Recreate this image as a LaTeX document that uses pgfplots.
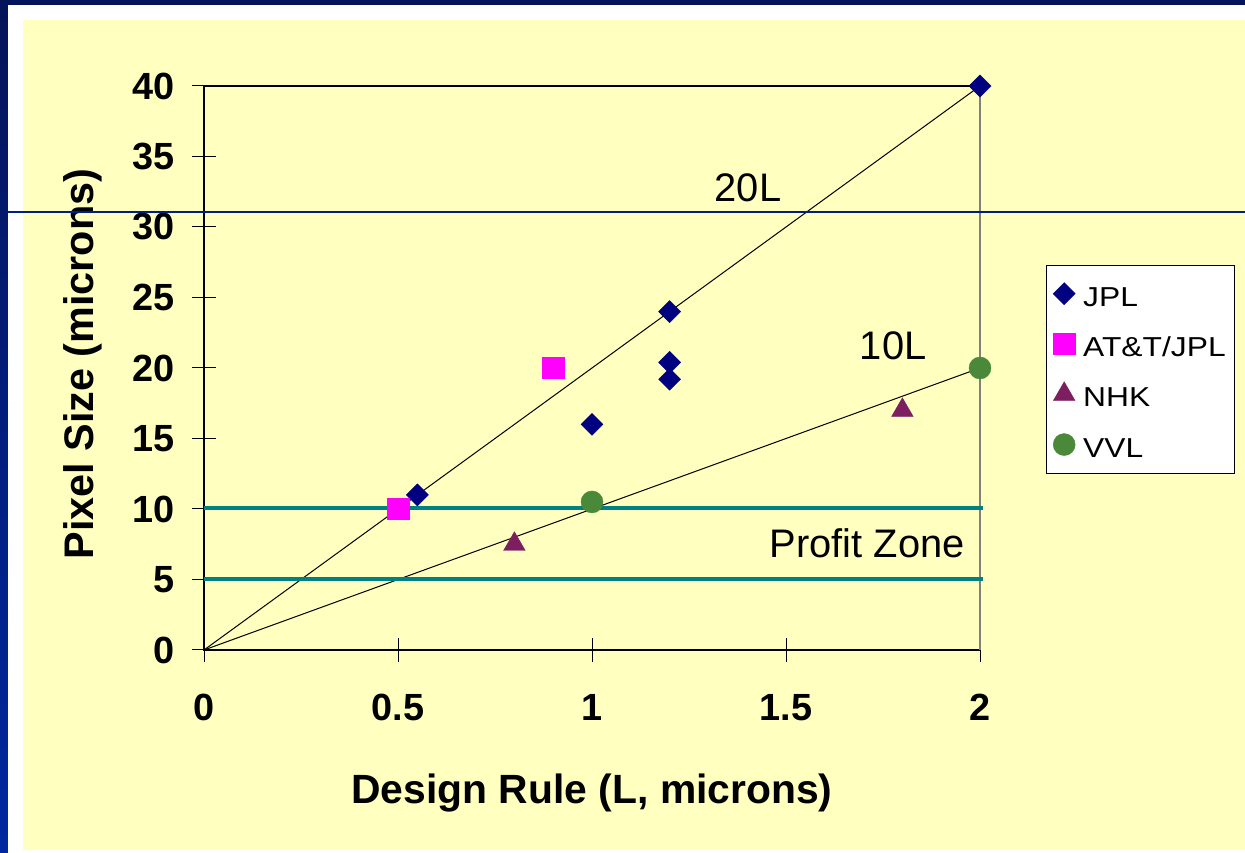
\documentclass[border=0pt]{standalone}
\usepackage{pgfplots}
\pgfplotsset{compat=1.18}
\usepackage{fontspec}
\setmainfont{Liberation Sans}
\newfontfamily\legfont[FakeStretch=1.16]{Liberation Sans}
\definecolor{navtop}{RGB}{4,20,90}
\definecolor{navbot}{RGB}{0,40,160}
\definecolor{bgyellow}{RGB}{255,255,192}
\definecolor{jplblue}{RGB}{0,0,128}
\definecolor{attmag}{RGB}{255,0,255}
\definecolor{nhkpurple}{RGB}{124,30,96}
\definecolor{vvlgreen}{RGB}{74,136,58}
\definecolor{zoneteal}{RGB}{0,128,128}
\definecolor{slideline}{RGB}{0,32,128}
\begin{document}
\begin{tikzpicture}
\useasboundingbox (0bp,0bp) rectangle (1245bp,853bp);
\shade[top color=navtop, bottom color=navbot] (0bp,0bp) rectangle (1245bp,853bp);
\fill[white] (8bp,0bp) rectangle (1245bp,848bp);
\fill[bgyellow] (23bp,3bp) rectangle (1245bp,833bp);
\begin{axis}[
  at={(204bp,203bp)}, anchor=south west,
  scale only axis, width=776bp, height=564bp,
  xmin=0, xmax=2, ymin=0, ymax=40,
  xtick={0,0.5,1,1.5,2}, ytick={0,5,10,15,20,25,30,35,40},
  xtick pos=bottom, ytick pos=left, tick align=center,
  major tick length=24bp,
  tick style={black, line width=1bp},
  axis line style={black, line width=1.2bp},
  /pgf/number format/assume math mode=true,
  ticklabel style={font=\fontsize{38}{38}\selectfont\bfseries},
  yticklabel style={xshift=-14bp},
  xticklabel style={yshift=-29bp},
  xlabel={Design Rule (L, microns)},
  ylabel={Pixel Size (microns)},
  xlabel style={at={(axis description cs:0.5,-0.2535)}, anchor=center, font=\fontsize{41}{41}\selectfont\bfseries},
  ylabel style={at={(axis description cs:-0.156,0.507)}, anchor=center, font=\fontsize{41.5}{41.5}\selectfont\bfseries},
  legend style={at={(axis description cs:1.085,0.6826)}, anchor=north west, draw=black, fill=white,
    font=\legfont\fontsize{27.5}{27.5}\selectfont, row sep=21.3bp, column sep=6bp,
    inner xsep=7bp, inner ysep=14bp,
    nodes={text height=25bp, text depth=0bp}},
  every legend image post/.style={xshift=6bp},
  legend cell align=left,
  clip=false,
]
\draw[gray, line width=1.2bp] (rel axis cs:1,0) -- (rel axis cs:1,1);
\addplot[only marks, mark=square*, mark size=7.8bp, color=jplblue, mark options={rotate=45, fill=jplblue, draw=jplblue}]
  coordinates {(0.55,11) (1,16) (1.2,24) (1.2,20.4) (1.2,19.2) (2,40)};
\addplot[only marks, mark=square*, mark size=10.7bp, color=attmag, mark options={fill=attmag, draw=attmag}]
  coordinates {(0.5,10) (0.9,20)};
\addplot[only marks, mark=triangle*, mark size=12.5bp, color=nhkpurple, mark options={fill=nhkpurple, draw=nhkpurple}]
  coordinates {(0.8,7.5) (1.8,17)};
\addplot[only marks, mark=*, mark size=11bp, color=vvlgreen, mark options={fill=vvlgreen, draw=vvlgreen}]
  coordinates {(1,10.5) (2,20)};
\legend{JPL, AT\&T/JPL, NHK, VVL}
\addplot[black, line width=1bp, forget plot] coordinates {(0,0) (2,40)};
\addplot[black, line width=1bp, forget plot] coordinates {(0,0) (2,20)};
\addplot[zoneteal, line width=4bp, forget plot] coordinates {(0,10.05) (2.008,10.05)};
\addplot[zoneteal, line width=4bp, forget plot] coordinates {(0,5.05) (2.008,5.05)};
\node[font=\fontsize{40}{40}\selectfont] at (axis cs:1.402,32.77) {20L};
\node[font=\fontsize{40}{40}\selectfont] at (axis cs:1.776,21.6) {10L};
\node[font=\fontsize{40}{40}\selectfont] at (axis cs:1.709,7.59) {Profit Zone};
\end{axis}
\draw[slideline, line width=1.5bp] (8bp,641bp) -- (1245bp,641bp);
\end{tikzpicture}
\end{document}
